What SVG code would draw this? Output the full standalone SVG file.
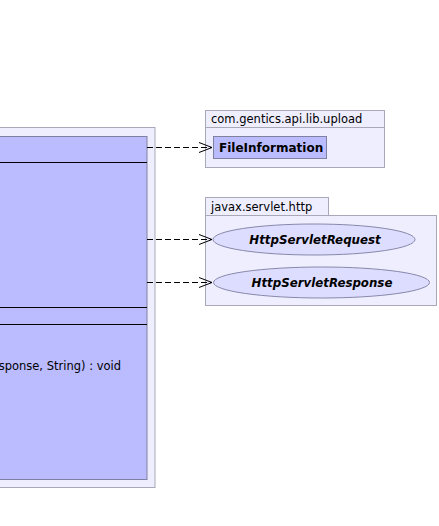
<svg xmlns="http://www.w3.org/2000/svg" width="439" height="526" viewBox="0 0 439 526">
<style>
.pkg{fill:#eeeeff;stroke:#a8a8b8;stroke-width:1}
.cls{fill:#bbbbff;stroke:#8080a0;stroke-width:1}
.ell{fill:#ddddff;stroke:#8888aa;stroke-width:1}
.sep{stroke:#000;stroke-width:1}
.plabel{font-family:"DejaVu Sans",sans-serif;font-size:11.5px;fill:#000}
.cname{font-family:"DejaVu Sans",sans-serif;font-size:12px;font-weight:bold;fill:#000}
.iname{font-family:"DejaVu Sans",sans-serif;font-size:11.8px;font-weight:bold;font-style:italic;fill:#000}
.meth{font-family:"DejaVu Sans",sans-serif;font-size:11.5px;fill:#000}
.dep{fill:none;stroke:#000;stroke-width:1;stroke-dasharray:6,3}
.head{fill:none;stroke:#000;stroke-width:1}
</style>
<g id="outer-package">
<rect class="pkg" x="-5" y="127.5" width="160" height="360"/>
</g>
<g id="main-class">
<rect class="cls" x="-5" y="136.5" width="152" height="343"/>
<line class="sep" x1="-5" y1="162.5" x2="147" y2="162.5"/>
<line class="sep" x1="-5" y1="307.5" x2="147" y2="307.5"/>
<line class="sep" x1="-5" y1="324.5" x2="147" y2="324.5"/>
<text class="meth" x="121" y="370" text-anchor="end">sponse, String) : void</text>
</g>
<g id="pkg-upload">
<rect class="pkg" x="205.5" y="110.5" width="179" height="17"/>
<rect class="pkg" x="205.5" y="127.5" width="179" height="40"/>
<text class="plabel" x="211" y="123">com.gentics.api.lib.upload</text>
</g>
<g id="FileInformation">
<rect class="cls" x="213.5" y="136.5" width="113" height="22"/>
<text class="cname" x="219" y="152">FileInformation</text>
</g>
<g id="pkg-http">
<rect class="pkg" x="205.5" y="197.5" width="123" height="18"/>
<rect class="pkg" x="205.5" y="215.5" width="231" height="90"/>
<text class="plabel" x="211" y="211">javax.servlet.http</text>
</g>
<g id="HttpServletRequest">
<ellipse class="ell" cx="314" cy="239.5" rx="101" ry="15.5"/>
<text class="iname" x="315" y="244" text-anchor="middle">HttpServletRequest</text>
</g>
<g id="HttpServletResponse">
<ellipse class="ell" cx="321.5" cy="282.5" rx="108" ry="15.5"/>
<text class="iname" x="322" y="287" text-anchor="middle">HttpServletResponse</text>
</g>
<g id="connectors">
<line class="dep" x1="147" y1="147.5" x2="212" y2="147.5"/>
<polyline class="head" points="199,142.5 212,147.5 199,152.5"/>
<line class="dep" x1="147" y1="239.5" x2="212" y2="239.5"/>
<polyline class="head" points="199,234.5 212,239.5 199,244.5"/>
<line class="dep" x1="147" y1="282.5" x2="212" y2="282.5"/>
<polyline class="head" points="199,277.5 212,282.5 199,287.5"/>
</g>
</svg>
